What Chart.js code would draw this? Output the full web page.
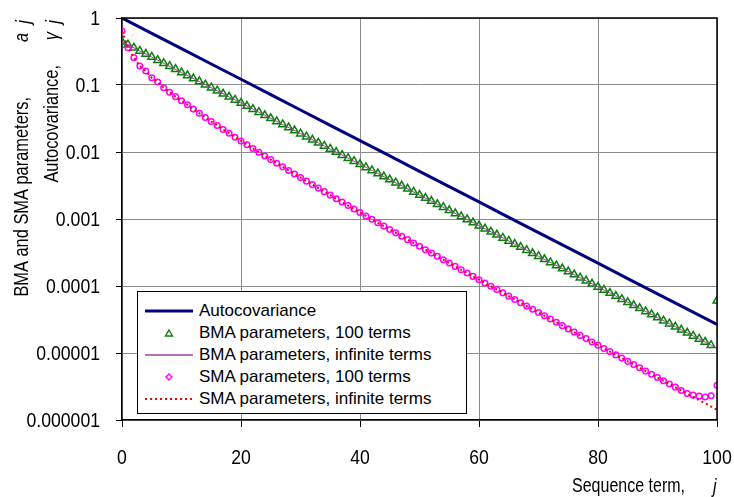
<!DOCTYPE html>
<html lang="en">
<head>
  <meta charset="UTF-8">
  <title>Autocovariance and moving-average parameters</title>
  <script src="https://cdn.jsdelivr.net/npm/chart.js"></script>
  <style>
    body { margin: 0; background: #fff; }
    .wrap { position: relative; width: 734px; height: 497px; }
    #plot { position: absolute; left: 0; top: 0; }
    /* legend box sits inside the plot, lower left */
    .legend {
      position: absolute; left: 137px; top: 291px; width: 330px; height: 123px;
      box-sizing: border-box; border: 1px solid #000; background: #fff;
      padding-top: 8px;
      font: 17px "Liberation Sans", Arial, sans-serif; color: #000;
    }
    .legend .row { height: 22px; display: flex; align-items: center; white-space: nowrap; }
    .legend svg { margin-left: 7px; margin-right: 6px; flex: none; }
  </style>
</head>
<body>
  <div class="wrap">
    <canvas id="plot" width="734" height="497"></canvas>
    <div class="legend" id="legend"></div>
  </div>

  <script>
    // sequence term j = 0..100
    const terms = Array.from({ length: 101 }, (_, j) => j);

    // autocovariance gamma_j (every 5th term)
    const autoJ = [0, 5, 10, 15, 20, 25, 30, 35, 40, 45, 50, 55, 60, 65, 70, 75, 80, 85, 90, 95, 100];
    const autocovariance = [1, 0.59, 0.349, 0.206, 0.122, 0.0718, 0.0424, 0.025, 0.0148, 0.00873, 0.00515,
      0.00304, 0.0018, 0.00106, 0.000627, 0.00037, 0.000219, 0.000129, 7.63e-5, 4.51e-5, 2.66e-5];

    // BMA parameters from a 100-term fit
    const bma100 = [0.443, 0.399, 0.359, 0.323, 0.291, 0.262, 0.235, 0.212, 0.191, 0.172,
      0.154, 0.139, 0.125, 0.113, 0.101, 0.0912, 0.0821, 0.0739, 0.0665, 0.0598,
      0.0539, 0.0485, 0.0436, 0.0393, 0.0353, 0.0318, 0.0286, 0.0258, 0.0232, 0.0209,
      0.0188, 0.0169, 0.0152, 0.0137, 0.0123, 0.0111, 0.00998, 0.00898, 0.00808, 0.00728,
      0.00655, 0.00589, 0.0053, 0.00477, 0.0043, 0.00387, 0.00348, 0.00313, 0.00282, 0.00254,
      0.00228, 0.00205, 0.00185, 0.00166, 0.0015, 0.00135, 0.00121, 0.00109, 0.000983, 0.000885,
      0.000796, 0.000716, 0.000645, 0.00058, 0.000522, 0.00047, 0.000423, 0.000381, 0.000343, 0.000308,
      0.000278, 0.00025, 0.000225, 0.000202, 0.000182, 0.000164, 0.000148, 0.000133, 0.00012, 0.000108,
      9.7e-5, 8.73e-5, 7.85e-5, 7.07e-5, 6.36e-5, 5.72e-5, 5.15e-5, 4.64e-5, 4.17e-5, 3.76e-5,
      3.38e-5, 3.04e-5, 2.74e-5, 2.46e-5, 2.22e-5, 2.0e-5, 1.8e-5, 1.62e-5, 1.46e-5, 1.31e-5,
      6.0e-5];

    // BMA parameters, infinite series
    const bmaInfJ = [0, 10, 20, 30, 40, 50, 60, 70, 80, 90, 100];
    const bmaInf = [0.443, 0.154, 0.0539, 0.0188, 0.00655, 0.00228, 0.000796, 0.000278, 9.7e-5, 3.38e-5, 1.18e-5];

    // SMA parameters from a 100-term fit
    const sma100 = [0.64, 0.36, 0.256, 0.192, 0.162, 0.128, 0.111, 0.0912, 0.0778, 0.067,
      0.0583, 0.0507, 0.0437, 0.0378, 0.0328, 0.0285, 0.0248, 0.0217, 0.019, 0.0166,
      0.0146, 0.0128, 0.0113, 0.00991, 0.00873, 0.0077, 0.0068, 0.006, 0.0053, 0.00469,
      0.00415, 0.00367, 0.00326, 0.00289, 0.00256, 0.00227, 0.00201, 0.00179, 0.00159, 0.00141,
      0.00125, 0.00111, 0.000991, 0.000881, 0.000784, 0.000698, 0.000621, 0.000553, 0.000492, 0.000439,
      0.000391, 0.000348, 0.00031, 0.000277, 0.000247, 0.00022, 0.000196, 0.000175, 0.000156, 0.000139,
      0.000124, 0.000111, 9.91e-5, 8.85e-5, 7.9e-5, 7.06e-5, 6.3e-5, 5.63e-5, 5.03e-5, 4.49e-5,
      4.02e-5, 3.59e-5, 3.21e-5, 2.87e-5, 2.56e-5, 2.29e-5, 2.05e-5, 1.83e-5, 1.64e-5, 1.46e-5,
      1.31e-5, 1.17e-5, 1.05e-5, 9.37e-6, 8.39e-6, 7.5e-6, 6.71e-6, 6.01e-6, 5.37e-6, 4.81e-6,
      4.31e-6, 3.85e-6, 3.45e-6, 3.09e-6, 2.76e-6, 2.49e-6, 2.35e-6, 2.27e-6, 2.2e-6, 2.3e-6,
      3.3e-6];

    // SMA parameters, infinite series
    const smaInfJ = [0, 1, 2, 3, 4, 5, 6, 7, 8, 9, 10, 15, 20, 25, 30, 35, 40, 45, 50, 55, 60,
      65, 70, 75, 80, 85, 90, 95, 96, 97, 98, 99, 100];
    const smaInf = [0.64, 0.36, 0.256, 0.192, 0.162, 0.128, 0.111, 0.0912, 0.0778, 0.067, 0.0583,
      0.0285, 0.0146, 0.0077, 0.00415, 0.00227, 0.00125, 0.000698, 0.000391, 0.00022, 0.000124,
      7.06e-5, 4.02e-5, 2.29e-5, 1.31e-5, 7.5e-6, 4.31e-6, 2.47e-6, 2.21e-6, 1.98e-6, 1.78e-6, 1.59e-6, 1.42e-6];

    // axis ticks
    const yTicks = [1, 0.1, 0.01, 0.001, 0.0001, 0.00001, 0.000001];
    const yTickLabels = ['1', '0.1', '0.01', '0.001', '0.0001', '0.00001', '0.000001'];
    const xTicks = [0, 20, 40, 60, 80, 100];
    const xTickLabels = ['0', '20', '40', '60', '80', '100'];

    const seriesLabels = [
      'Autocovariance',
      'BMA parameters, 100 terms',
      'BMA parameters, infinite terms',
      'SMA parameters, 100 terms',
      'SMA parameters, infinite terms'
    ];

    const pairs = (xs, ys) => xs.map((x, i) => ({ x: x, y: ys[i] }));

    const family = '"Liberation Sans", Arial, sans-serif';

    // narrow lettering: normal face squeezed sideways
    function squeezed(ctx, text, x, y, opt) {
      ctx.save();
      ctx.translate(x, y);
      if (opt.rotate) ctx.rotate(-Math.PI / 2);
      ctx.scale(opt.squeeze || 0.84, 1);
      ctx.font = opt.font;
      ctx.textAlign = opt.align || 'left';
      ctx.textBaseline = opt.baseline || 'alphabetic';
      ctx.fillText(text, 0, 0);
      ctx.restore();
    }

    // black frame round the plot area, tick labels and the two axis titles
    const frameAndLabels = {
      id: 'frameAndLabels',
      afterDraw(chart) {
        const { ctx, chartArea: a, scales } = chart;
        ctx.save();
        ctx.strokeStyle = '#000';
        ctx.lineWidth = 1.5;
        ctx.beginPath();
        ctx.moveTo(a.left, a.top);
        ctx.lineTo(a.right, a.top);
        ctx.lineTo(a.right, a.bottom);
        ctx.stroke();
        ctx.fillStyle = '#000';

        const tickFont = '21px ' + family;
        yTicks.forEach((v, i) => squeezed(ctx, yTickLabels[i], 100, scales.y.getPixelForValue(v) + 1,
          { font: tickFont, align: 'right', baseline: 'middle' }));
        xTicks.forEach((v, i) => squeezed(ctx, xTickLabels[i], scales.x.getPixelForValue(v), 458,
          { font: tickFont, align: 'center', baseline: 'middle' }));

        const plain = '20px ' + family;
        const ital = 'italic 20px ' + family;
        const r = { rotate: true, align: 'right', squeeze: 0.82 };
        squeezed(ctx, 'BMA and SMA parameters,', 28, 97, { ...r, font: plain });
        squeezed(ctx, 'a', 28, 33, { ...r, font: ital });
        squeezed(ctx, 'j', 30, 20, { ...r, font: ital });
        squeezed(ctx, 'Autocovariance,', 58, 65, { ...r, font: plain });
        squeezed(ctx, '\u03b3', 58, 32, { ...r, font: ital });
        squeezed(ctx, 'j', 60, 20, { ...r, font: ital });

        squeezed(ctx, 'Sequence term,', 685, 492, { font: plain, align: 'right', squeeze: 0.8 });
        squeezed(ctx, 'j', 713, 493, { font: ital, squeeze: 0.8 });
        ctx.restore();
      }
    };

    const chart = new Chart(document.getElementById('plot'), {
      type: 'line',
      data: {
        datasets: [
          {
            label: seriesLabels[0],
            data: pairs(autoJ, autocovariance),
            borderColor: '#000080', borderWidth: 3, pointRadius: 0, order: 4
          },
          {
            label: seriesLabels[1],
            data: pairs(terms, bma100),
            showLine: false, pointStyle: 'triangle', pointRadius: 4.5,
            pointBorderColor: '#0a800a', pointBorderWidth: 1.5,
            pointBackgroundColor: 'transparent', order: 3
          },
          {
            label: seriesLabels[2],
            data: pairs(bmaInfJ, bmaInf),
            borderColor: '#a040a8', borderWidth: 1, pointRadius: 0, order: 2
          },
          {
            label: seriesLabels[3],
            data: pairs(terms, sma100),
            showLine: false, pointStyle: 'circle', pointRadius: 2.8,
            pointBorderColor: '#ff00ff', pointBorderWidth: 1.5,
            pointBackgroundColor: 'transparent', order: 1
          },
          {
            label: seriesLabels[4],
            data: pairs(smaInfJ, smaInf),
            borderColor: '#ff0000', borderWidth: 2, borderDash: [2, 3],
            pointRadius: 0, order: 0
          }
        ]
      },
      options: {
        responsive: false,
        animation: false,
        events: [],
        layout: { padding: { left: 0, right: 17, top: 18, bottom: 0 } },
        plugins: { legend: { display: false }, tooltip: { enabled: false } },
        scales: {
          x: {
            type: 'linear', min: 0, max: 100,
            afterBuildTicks: s => { s.ticks = xTicks.map(v => ({ value: v })); },
            afterFit: s => { s.height = 77; },
            ticks: { display: false },
            grid: { color: '#8c8c8c', lineWidth: 1, tickColor: '#000', tickLength: 7 },
            border: { color: '#000', width: 1.5 }
          },
          y: {
            type: 'logarithmic', min: 0.000001, max: 1,
            afterBuildTicks: s => { s.ticks = yTicks.map(v => ({ value: v })); },
            afterFit: s => { s.width = 122; },
            ticks: { display: false },
            grid: { color: '#8c8c8c', lineWidth: 1, tickColor: '#000', tickLength: 6 },
            border: { color: '#000', width: 1.5 }
          }
        }
      },
      plugins: [frameAndLabels]
    });

    // legend rows built from the datasets
    const swatch = ds => {
      if (ds.showLine === false && ds.pointStyle === 'triangle') {
        return '<svg width="48" height="12"><polygon points="24,3 27.5,9 20.5,9" fill="none" stroke="' +
          ds.pointBorderColor + '" stroke-width="1.4"/></svg>';
      }
      if (ds.showLine === false) {
        return '<svg width="48" height="12"><polygon points="24,3 27,6 24,9 21,6" fill="none" stroke="' +
          ds.pointBorderColor + '" stroke-width="1.4"/></svg>';
      }
      const dash = ds.borderDash ? ' stroke-dasharray="' + ds.borderDash.join(',') + '"' : '';
      return '<svg width="48" height="12"><line x1="0" y1="6" x2="48" y2="6" stroke="' + ds.borderColor +
        '" stroke-width="' + Math.max(ds.borderWidth, 1.5) + '"' + dash + '/></svg>';
    };
    document.getElementById('legend').innerHTML = chart.data.datasets
      .map(ds => '<div class="row">' + swatch(ds) + '<span>' + ds.label + '</span></div>')
      .join('');
  </script>
</body>
</html>
